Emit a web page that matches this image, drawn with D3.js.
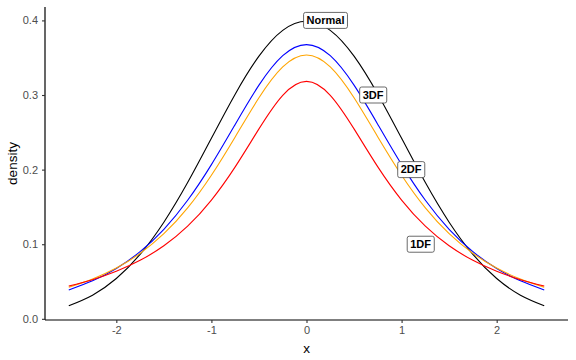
<!DOCTYPE html>
<html>
<head>
<meta charset="utf-8">
<script src="https://cdn.jsdelivr.net/npm/d3@7"></script>
<style>
  body { margin: 0; background: #fff; }
  text { font-family: "Liberation Sans", Arial, sans-serif; }
</style>
</head>
<body>
<script>
// x grid the curves are read on
const xs = [-2.5, -2.25, -2, -1.75, -1.5, -1.25, -1, -0.75, -0.5, -0.25, 0,
            0.25, 0.5, 0.75, 1, 1.25, 1.5, 1.75, 2, 2.25, 2.5];

// density values
const normal = [0.0175, 0.0317, 0.0540, 0.0863, 0.1295, 0.1826, 0.2420, 0.3011, 0.3521, 0.3867, 0.3989,
                0.3867, 0.3521, 0.3011, 0.2420, 0.1826, 0.1295, 0.0863, 0.0540, 0.0317, 0.0175];
const df3 = [0.0387, 0.0509, 0.0675, 0.0900, 0.1200, 0.1589, 0.2067, 0.2606, 0.3132, 0.3527, 0.3676,
             0.3527, 0.3132, 0.2606, 0.2067, 0.1589, 0.1200, 0.0900, 0.0675, 0.0509, 0.0387];
const df2 = [0.0422, 0.0533, 0.0680, 0.0878, 0.1141, 0.1487, 0.1925, 0.2438, 0.2963, 0.3376, 0.3536,
             0.3376, 0.2963, 0.2438, 0.1925, 0.1487, 0.1141, 0.0878, 0.0680, 0.0533, 0.0422];
const df1 = [0.0439, 0.0525, 0.0637, 0.0784, 0.0979, 0.1242, 0.1592, 0.2037, 0.2546, 0.2996, 0.3183,
             0.2996, 0.2546, 0.2037, 0.1592, 0.1242, 0.0979, 0.0784, 0.0637, 0.0525, 0.0439];

const seriesNames = ['Normal', '3DF', '2DF', '1DF'];
const seriesValues = [normal, df3, df2, df1];
const seriesColors = ['black', 'blue', 'orange', 'red'];

// label positions (x, y in data units)
const labelX = [0.2, 0.7, 1.1, 1.2];
const labelY = [0.4, 0.3, 0.2, 0.1];

const xTicks = [-2, -1, 0, 1, 2];
const yTicks = [0.0, 0.1, 0.2, 0.3, 0.4];

const W = 576, H = 360;
const margin = {top: 7, bottom: 40, left: 45, right: 8};
const width = W - margin.left - margin.right;
const height = H - margin.top - margin.bottom;

const svg = d3.select('body').append('svg')
  .attr('width', W)
  .attr('height', H);

const g = svg.append('g')
  .attr('transform', `translate(${margin.left},${margin.top})`);

// ggplot style 5% expansion
const xscale = d3.scaleLinear().domain([-2.75, 2.75]).range([0, width]);
const ymin = 0.0175, ymax = 0.3989, pad = (ymax - ymin) * 0.05;
const yscale = d3.scaleLinear().domain([ymin - pad, ymax + pad]).range([height, 0]);

// curves
const line = d3.line()
  .x((d) => xscale(d[0]))
  .y((d) => yscale(d[1]))
  .curve(d3.curveNatural);

seriesValues.forEach((vals, i) => {
  g.append('path')
    .datum(xs.map((x, j) => [x, vals[j]]))
    .attr('fill', 'none')
    .attr('stroke', seriesColors[i])
    .attr('stroke-width', 1.1)
    .attr('d', line);
});

// axes
const xaxis = d3.axisBottom(xscale).tickValues(xTicks).tickSize(3).tickPadding(3)
  .tickFormat((d) => String(d));
const yaxis = d3.axisLeft(yscale).tickValues(yTicks).tickSize(3).tickPadding(4)
  .tickFormat((d) => d.toFixed(1));

const gx = g.append('g').attr('transform', `translate(0,${height})`).call(xaxis);
const gy = g.append('g').call(yaxis);

[gx, gy].forEach((ax) => {
  ax.select('.domain').attr('stroke', 'black').attr('stroke-width', 1.2);
  ax.selectAll('.tick line').attr('stroke', '#333').attr('stroke-width', 1.1);
  ax.selectAll('.tick text').attr('fill', '#4d4d4d').style('font-size', '11px');
});
// domain paths without the end caps
gx.select('.domain').attr('d', `M0,0H${width}`);
gy.select('.domain').attr('d', `M0,0V${height}`);

// axis titles
svg.append('text')
  .attr('x', margin.left + width / 2)
  .attr('y', H - 7)
  .attr('text-anchor', 'middle')
  .style('font-size', '13.5px')
  .text('x');

svg.append('text')
  .attr('transform', `translate(17,${margin.top + height / 2}) rotate(-90)`)
  .attr('text-anchor', 'middle')
  .style('font-size', '13.5px')
  .text('density');

// labels
seriesNames.forEach((name, i) => {
  const lg = g.append('g')
    .attr('transform', `translate(${xscale(labelX[i])},${yscale(labelY[i])})`);
  const t = lg.append('text')
    .attr('text-anchor', 'middle')
    .attr('dy', '0.35em')
    .style('font-size', '11px')
    .style('font-weight', 'bold')
    .text(name);
  const bb = t.node().getBBox();
  lg.insert('rect', 'text')
    .attr('x', bb.x - 3)
    .attr('y', -8)
    .attr('width', bb.width + 6)
    .attr('height', 16)
    .attr('rx', 2)
    .attr('fill', 'white')
    .attr('stroke', '#444')
    .attr('stroke-width', 0.8);
});
</script>
</body>
</html>
